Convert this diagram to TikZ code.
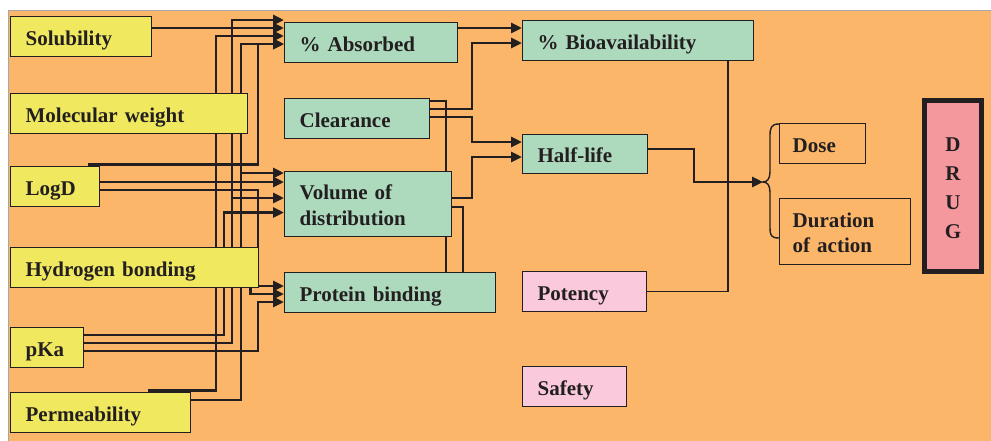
\documentclass[tikz,border=0pt]{standalone}
\usepackage{fontspec}
\setmainfont{Liberation Serif}
\usetikzlibrary{arrows.meta,calc}
\definecolor{ink}{RGB}{35,31,32}
\definecolor{bgor}{RGB}{251,182,106}
\definecolor{yel}{RGB}{240,233,95}
\definecolor{grn}{RGB}{173,217,189}
\definecolor{pnk}{RGB}{250,201,219}
\definecolor{drugc}{RGB}{244,152,158}
\pgfdeclarelayer{bglayer}
\pgfdeclarelayer{lines}
\pgfsetlayers{bglayer,lines,main}
\begin{document}
\begin{tikzpicture}[x=1pt,y=-1pt,
  conn/.style={draw=ink,line width=2.9pt},
  arr/.style={conn,-{Triangle[length=11pt,width=10pt]}},
  thinl/.style={draw=ink,line width=1.6pt},
  box/.style={draw=ink,line width=1.3pt,anchor=north west,inner xsep=15pt,inner ysep=0pt,
    text height=17pt,text depth=0pt,align=left,text=ink,
    font=\fontsize{21}{26}\selectfont\bfseries},
  ybox/.style={box,fill=yel},
  gbox/.style={box,fill=grn},
  pbox/.style={box,fill=pnk},
  obox/.style={box,inner xsep=13pt,line width=1.4pt}]
\useasboundingbox (0,0) rectangle (991,440);
\begin{pgfonlayer}{bglayer}
\fill[white] (0,0) rectangle (991,440);
\filldraw[fill=bgor,draw=gray!70,line width=0.8pt] (8,10) rectangle (991,441);
\end{pgfonlayer}

% left column
\node[ybox,minimum width=141pt,minimum height=40pt,text width=111pt] (sol) at (10,16) {Solubility};
\node[ybox,minimum width=237pt,minimum height=40pt,text width=207pt] (mw) at (10,93) {Molecular weight};
\node[ybox,minimum width=89pt,minimum height=40pt,text width=59pt] (logd) at (10,166) {LogD};
\node[ybox,minimum width=248pt,minimum height=40pt,text width=218pt] (hb) at (10,247) {Hydrogen bonding};
\node[ybox,minimum width=73pt,minimum height=40pt,text width=43pt] (pka) at (10,327) {pKa};
\node[ybox,minimum width=180pt,minimum height=40pt,text width=150pt] (perm) at (10,392) {Permeability};

% middle column
\node[gbox,minimum width=173pt,minimum height=40pt,text width=143pt] (abs) at (284,22) {\% Absorbed};
\node[gbox,minimum width=145pt,minimum height=40pt,text width=115pt] (clr) at (284,98) {Clearance};
\node[gbox,minimum width=167pt,minimum height=65pt,text width=137pt,text depth=26pt] (vod) at (284,171) {Volume of\\distribution};
\node[gbox,minimum width=211pt,minimum height=40pt,text width=181pt] (pb) at (284,272) {Protein binding};

% right column
\node[gbox,minimum width=231pt,minimum height=40pt,text width=201pt] (bio) at (522,20) {\% Bioavailability};
\node[gbox,minimum width=125pt,minimum height=39pt,text width=95pt] (hl) at (522,134) {Half-life};
\node[pbox,minimum width=124pt,minimum height=40pt,text width=94pt] (pot) at (522,271) {Potency};
\node[pbox,minimum width=104pt,minimum height=40pt,text width=74pt] (saf) at (522,366) {Safety};

% outcome boxes
\node[obox,minimum width=86pt,minimum height=40pt,text width=60pt] (dose) at (779,123) {Dose};
\node[obox,minimum width=131pt,minimum height=66pt,text width=105pt,text depth=25pt,
  font=\fontsize{21}{25}\selectfont\bfseries] (dur) at (779,198) {Duration\\of action};
\node[draw=ink,line width=5pt,fill=drugc,minimum width=57pt,minimum height=171pt,
  inner sep=0pt,text width=30pt,align=center,text height=17pt,text depth=87pt,text=ink,
  font=\fontsize{21}{29}\selectfont\bfseries] (drug) at (953,186) {D\\R\\U\\G};

\coordinate (btip) at (763,182);
\coordinate (jn) at (728,182);

\begin{pgfonlayer}{lines}
% left bus
\draw[arr] (sol.east |- 0,28) -- (abs.west |- 0,28);
\draw[arr] ($(perm.north east)+(-43,-1.5)$) -| (216,36) -- (abs.west |- 0,36);
\draw[arr] (perm.east |- 0,400) -| (241,44) -- (abs.west |- 0,44);
\draw[arr] (241,173) -- (vod.west |- 0,173);
\draw[arr] (pka.east |- 0,343) -| (232,20) -- (abs.west |- 0,20);
\draw[arr] (232,198) -- (vod.west |- 0,198);
\draw[arr] (pka.east |- 0,335) -| (224,212.5) -- (vod.west |- 0,212.5);
\draw[arr] (pka.east |- 0,351) -| (258,302) -- (pb.west |- 0,302);
\draw[arr] ($(logd.north east)+(-12,-1.5)$) -| (258,44) -- (abs.west |- 0,44);
\draw[arr] (logd.east |- 0,182) -- (vod.west |- 0,182);
\draw[arr] (logd.east |- 0,190) -| (258,286) -- (pb.west |- 0,286);
\draw[arr] ($(hb.south east)+(-9,0)$) |- (pb.west |- 0,294);
% middle
\draw[arr] (abs.east |- 0,28) -- (bio.west |- 0,28);
\draw[arr] (clr.east |- 0,109) -| (472,43) -- (bio.west |- 0,43);
\draw[arr] (clr.east |- 0,117) -| (472,142) -- (hl.west |- 0,142);
\draw[arr] (vod.east |- 0,198) -| (472,157) -- (hl.west |- 0,157);
\draw[conn] (vod.east |- 0,207) -| (pb.north -| 463,0);
\draw[conn] (clr.east |- 0,101) -| (pb.north -| 446,0);
% right
\draw[conn,line width=2.5pt] (bio.south -| jn) -- (jn |- pot.east);
\draw[thinl] (pot.east) -- (jn |- pot.east);
\draw[thinl] (hl.east |- 0,149) -| (694,182) -- (jn);
\draw[arr] (jn) -- (btip);
\draw[ink,line width=1.4pt] (dose.west |- 0,124) .. controls (771,124) and (770,128) .. (770,136)
  -- (770,172) .. controls (770,179) and (767,182) .. (btip)
  .. controls (767,182) and (770,185) .. (770,192)
  -- (770,228) .. controls (770,235) and (771,238) .. (dur.west |- 0,238);
\end{pgfonlayer}
\end{tikzpicture}
\end{document}
